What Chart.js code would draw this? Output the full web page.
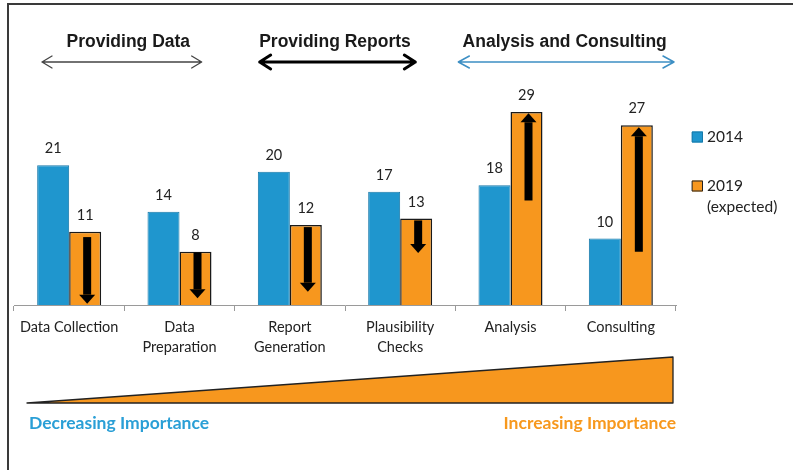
<!DOCTYPE html>
<html><head><meta charset="utf-8">
<script src="https://cdn.jsdelivr.net/npm/chart.js@4"></script>
<style>html,body{margin:0;padding:0;background:#fff;} #wrap{position:relative;width:793px;height:470px;}</style>
</head><body><div id="wrap"><canvas id="c" width="793" height="470"></canvas></div>
<script>
// ---- data ----
const categories = [['Data Collection'], ['Data', 'Preparation'], ['Report', 'Generation'], ['Plausibility', 'Checks'], ['Analysis'], ['Consulting']];
const series2014 = [21, 14, 20, 17, 18, 10];
const series2019 = [11, 8, 12, 13, 29, 27];
const arrowFrom = [10.2, 7.9, 11.7, 12.7, 15.7, 8];
const arrowTo = [0.2, 1, 2, 7.8, 28.8, 26.7];
const groupTitles = ['Providing Data', 'Providing Reports', 'Analysis and Consulting'];
const groupFirst = [0, 2, 4];
const groupLast = [1, 3, 5];
const legendLabels = [['2014'], ['2019', '(expected)']];
const importanceLabels = ['Decreasing Importance', 'Increasing Importance'];

// ---- styles ----
const BLUE = '#1f96ce', BLUE_EDGE = '#1778a8', ORANGE = '#f7971e';
const groupStyle = [
  { dx: 4, insetL: 28, insetR: 33, color: '#444', width: 1.3, head: 10, half: 6 },
  { dx: -10, insetL: 25, insetR: 40, color: '#000', width: 3, head: 11, half: 7 },
  { dx: -1, insetL: 3, insetR: 2, color: '#3d8fc4', width: 1.5, head: 11, half: 6 }
];
const LABEL_FONT = '14.5px Lato';

const deco = {
  id: 'deco',
  afterDatasetsDraw(chart) {
    const ctx = chart.ctx, y = chart.scales.y;
    const m0 = chart.getDatasetMeta(0), m1 = chart.getDatasetMeta(1);
    ctx.save();
    // arrows inside 2019 bars
    m1.data.forEach((bar, i) => {
      const cx = bar.x + 2;
      const y0 = y.getPixelForValue(arrowFrom[i]);
      const y1 = y.getPixelForValue(arrowTo[i]);
      const dir = y1 > y0 ? 1 : -1;
      const hl = 9, sw = 4, hw = 8;
      ctx.fillStyle = '#000';
      ctx.fillRect(cx - sw, Math.min(y0, y1 - dir * hl), sw * 2, Math.abs((y1 - dir * hl) - y0));
      ctx.beginPath();
      ctx.moveTo(cx - hw, y1 - dir * hl);
      ctx.lineTo(cx + hw, y1 - dir * hl);
      ctx.lineTo(cx, y1);
      ctx.closePath();
      ctx.fill();
    });
    // value labels
    ctx.font = LABEL_FONT;
    ctx.fillStyle = '#222';
    ctx.textAlign = 'center';
    ctx.textBaseline = 'middle';
    [m0, m1].forEach((meta, d) => {
      const vals = d === 0 ? series2014 : series2019;
      meta.data.forEach((bar, i) => {
        ctx.fillText(String(vals[i]), bar.x, bar.y - 16.5);
      });
    });
    ctx.restore();
  },
  afterDraw(chart) {
    const ctx = chart.ctx, x = chart.scales.x, area = chart.chartArea;
    const catW = (area.right - area.left) / categories.length;
    ctx.save();
    // frame
    ctx.strokeStyle = '#3a3a3a';
    ctx.lineWidth = 2;
    ctx.beginPath();
    ctx.moveTo(793, 4); ctx.lineTo(8, 4); ctx.lineTo(8, 470);
    ctx.stroke();
    // group titles and double arrows
    groupTitles.forEach((t, g) => {
      const st = groupStyle[g];
      const l = x.getPixelForValue(groupFirst[g]) - catW / 2;
      const r = x.getPixelForValue(groupLast[g]) + catW / 2;
      ctx.font = 'bold 17.5px "Liberation Sans", Arial, sans-serif';
      ctx.fillStyle = '#1a1a1a';
      ctx.textAlign = 'center';
      ctx.textBaseline = 'middle';
      ctx.fillText(t, (l + r) / 2 + st.dx, 42);
      const a = l + st.insetL, b = r - st.insetR, yy = 62;
      ctx.strokeStyle = st.color;
      ctx.lineWidth = st.width;
      ctx.lineCap = 'round';
      ctx.lineJoin = 'round';
      ctx.beginPath();
      ctx.moveTo(a, yy); ctx.lineTo(b, yy);
      ctx.moveTo(a + st.head, yy - st.half); ctx.lineTo(a, yy); ctx.lineTo(a + st.head, yy + st.half);
      ctx.moveTo(b - st.head, yy - st.half); ctx.lineTo(b, yy); ctx.lineTo(b - st.head, yy + st.half);
      ctx.stroke();
    });
    // legend
    const lx = area.right + 16;
    const items = [{ y: 137, fill: BLUE, edge: BLUE_EDGE }, { y: 186, fill: ORANGE, edge: '#222' }];
    ctx.font = '15.5px Lato';
    ctx.textAlign = 'left';
    ctx.textBaseline = 'middle';
    items.forEach((it, k) => {
      ctx.fillStyle = it.fill;
      ctx.fillRect(lx, it.y - 5.5, 11, 11);
      ctx.strokeStyle = it.edge;
      ctx.lineWidth = 1;
      ctx.strokeRect(lx + 0.5, it.y - 5, 10, 10);
      ctx.fillStyle = '#222';
      legendLabels[k].forEach((line, j) => ctx.fillText(line, lx + 15, it.y + j * 21));
    });
    // importance wedge
    const tl = area.left + 13, tr = area.right - 3, tb = 403, tt = 357;
    ctx.beginPath();
    ctx.moveTo(tl, tb); ctx.lineTo(tr, tt); ctx.lineTo(tr, tb); ctx.closePath();
    ctx.fillStyle = ORANGE;
    ctx.fill();
    ctx.strokeStyle = '#222';
    ctx.lineWidth = 1.3;
    ctx.stroke();
    ctx.font = 'bold 17.5px Lato';
    ctx.textBaseline = 'middle';
    ctx.textAlign = 'left';
    ctx.fillStyle = '#2a9fd6';
    ctx.fillText(importanceLabels[0], area.left + 15, 423);
    ctx.textAlign = 'right';
    ctx.fillStyle = '#f7981d';
    ctx.fillText(importanceLabels[1], area.right, 423);
    ctx.restore();
  }
};

new Chart(document.getElementById('c'), {
  type: 'bar',
  data: {
    labels: categories,
    datasets: [
      { label: '2014', data: series2014, backgroundColor: BLUE, borderColor: BLUE_EDGE, borderWidth: 1, categoryPercentage: 0.58, barPercentage: 1 },
      { label: '2019 (expected)', data: series2019, backgroundColor: ORANGE, borderColor: '#1a1a1a', borderWidth: 1.5, categoryPercentage: 0.58, barPercentage: 1 }
    ]
  },
  options: {
    responsive: false,
    animation: false,
    devicePixelRatio: 1,
    layout: { padding: { left: 14, right: 117, top: 72, bottom: 0 } },
    plugins: { legend: { display: false }, tooltip: { enabled: false } },
    scales: {
      y: { display: false, min: 0, max: 35 },
      x: {
        grid: { display: true, drawOnChartArea: false, drawTicks: true, tickLength: 6, color: '#9a9a9a', offset: true },
        border: { display: true, color: '#9a9a9a', width: 1 },
        ticks: { font: { family: 'Lato', size: 14.5, lineHeight: 1.4 }, color: '#222', padding: 6, maxRotation: 0, autoSkip: false },
        afterFit(s) { s.height = 165; }
      }
    }
  },
  plugins: [deco]
});
</script></body></html>
